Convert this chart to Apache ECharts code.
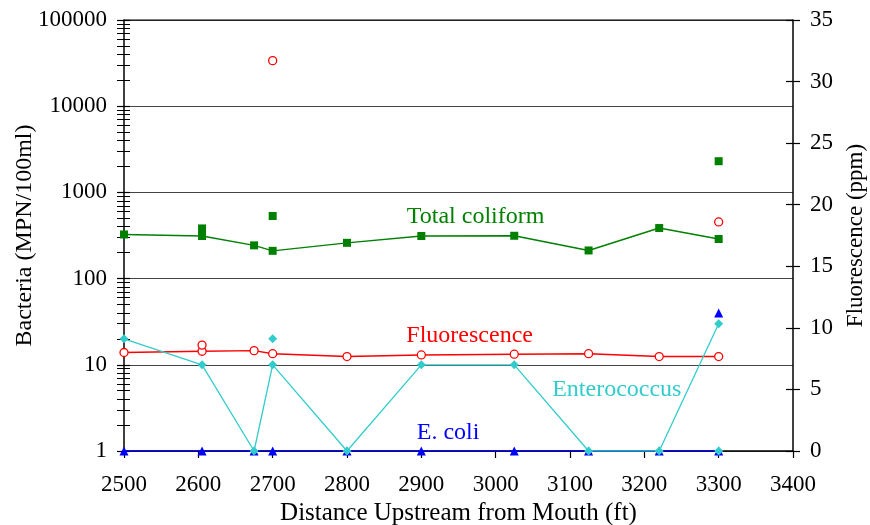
<!DOCTYPE html>
<html><head><meta charset="utf-8">
<script src="https://cdn.jsdelivr.net/npm/echarts@6/dist/echarts.min.js"></script>
<style>html,body{margin:0;padding:0;background:#fff}#c{width:870px;height:525px}</style>
</head><body><div id="c"></div>
<script>
// ---- data ----
const distances      = [2500, 2605, 2675, 2700, 2800, 2900, 3025, 3125, 3220, 3300];
const totalColiform  = [325, 312, 243, 210, 260, 312, 314, 212, 386, 288];
const enterococcus   = [20, 10, 1, 10, 1, 10, 10, 1, 1, 30];
const eColi          = [1, 1, 1, 1, 1, 1, 1, 1, 1, 1];
const fluorescence   = [8.0, 8.1, 8.15, 7.9, 7.67, 7.8, 7.86, 7.9, 7.67, 7.67];
// repeat samples (unconnected)
const totalColiformRepX = [2605, 2700, 3300];
const totalColiformRep  = [382, 532, 2300];
const enterococcusRepX  = [2700, 3300];
const enterococcusRep   = [20, 1];
const eColiRepX         = [3300];
const eColiRep          = [40];
const fluorescenceRepX  = [2605, 2700, 3300];
const fluorescenceRep   = [8.6, 31.7, 18.6];
// in-plot series labels (text, data x, data y, axis index)
const seriesLabels = [
  {text: 'Total coliform', x: 2973, y: 520, axis: 0, color: '#008000'},
  {text: 'Fluorescence',   x: 2965, y: 9.4, axis: 1, color: '#ff0000'},
  {text: 'Enterococcus',   x: 3163, y: 5.2, axis: 0, color: '#33cccc'},
  {text: 'E. coli',        x: 2936, y: 1.64, axis: 0, color: '#0000ff'}
];

const FONT = 'Liberation Serif';
const zip = (xs, ys) => xs.map((x, i) => [x, ys[i]]);

const chart = echarts.init(document.getElementById('c'), null, {renderer: 'canvas'});
const baseLabel = {fontFamily: FONT, fontSize: 23, color: '#000'};
const logAxisCommon = {type: 'log', logBase: 10, min: 1, max: 100000, position: 'left'};
const rightAxisCommon = {type: 'value', min: 0, max: 35, interval: 5, position: 'right'};

const option = {
  animation: false,
  backgroundColor: '#fff',
  grid: {left: 124, right: 77, top: 20, bottom: 74, show: false, containLabel: false, outerBoundsMode: 'none'},
  xAxis: {
    type: 'value', min: 2500, max: 3400, interval: 100,
    name: 'Distance Upstream from Mouth (ft)', nameLocation: 'middle', nameGap: 50, nameMoveOverlap: false,
    nameTextStyle: {fontFamily: FONT, fontSize: 25, color: '#000'},
    axisLine: {lineStyle: {color: '#000', width: 1.5}},
    axisTick: {show: true, inside: false, length: 7, lineStyle: {color: '#000', width: 1.2}},
    axisLabel: Object.assign({margin: 22, formatter: v => String(v)}, baseLabel),
    splitLine: {show: false}
  },
  yAxis: [
    Object.assign({}, logAxisCommon, {
      name: 'Bacteria (MPN/100ml)', nameLocation: 'middle', nameGap: 87, nameMoveOverlap: false,
      nameTextStyle: {fontFamily: FONT, fontSize: 24, color: '#000'},
      axisLine: {show: true, lineStyle: {color: '#000', width: 1.5}},
      axisTick: {show: true, inside: false, length: 7, lineStyle: {color: '#000', width: 1.2}},
      minorTick: {show: true, splitNumber: 9, length: 7, lineStyle: {color: '#000', width: 1}},
      axisLabel: Object.assign({margin: 17, formatter: v => String(v)}, baseLabel),
      splitLine: {show: true, lineStyle: {color: '#444', width: 1.2}}
    }),
    Object.assign({}, rightAxisCommon, {
      name: 'Fluorescence (ppm)', nameLocation: 'middle', nameGap: 51,
      nameTextStyle: {fontFamily: FONT, fontSize: 23, color: '#000'},
      axisLine: {show: true, lineStyle: {color: '#000', width: 1.5}},
      axisTick: {show: true, inside: false, length: 7, lineStyle: {color: '#000', width: 1.2}},
      axisLabel: Object.assign({margin: 17}, baseLabel),
      splitLine: {show: false}
    }),
    Object.assign({}, logAxisCommon, {
      axisLine: {show: false},
      axisTick: {show: true, inside: true, length: 6, lineStyle: {color: '#000', width: 1.2}},
      minorTick: {show: true, splitNumber: 9, length: 6, lineStyle: {color: '#000', width: 1}},
      axisLabel: {show: false}, splitLine: {show: false}
    }),
    Object.assign({}, rightAxisCommon, {
      axisLine: {show: false},
      axisTick: {show: true, inside: true, length: 7, lineStyle: {color: '#000', width: 1.2}},
      axisLabel: {show: false}, splitLine: {show: false}
    })
  ],
  series: [
    {name: 'Total coliform', type: 'line', yAxisIndex: 0, data: zip(distances, totalColiform),
     symbol: 'rect', symbolSize: 8, itemStyle: {color: '#008000', opacity: 1},
     lineStyle: {color: '#008000', width: 1.4}, z: 3},
    {name: 'Total coliform repeat', type: 'scatter', yAxisIndex: 0, data: zip(totalColiformRepX, totalColiformRep),
     symbol: 'rect', symbolSize: 8, itemStyle: {color: '#008000', opacity: 1}, z: 3},
    {name: 'Fluorescence', type: 'line', yAxisIndex: 1, data: zip(distances, fluorescence),
     symbol: 'circle', symbolSize: 8, showAllSymbol: true,
     itemStyle: {color: '#fff', borderColor: '#ff0000', borderWidth: 1.3, opacity: 1},
     lineStyle: {color: '#ff0000', width: 1.4}, z: 4},
    {name: 'Fluorescence repeat', type: 'scatter', yAxisIndex: 1, data: zip(fluorescenceRepX, fluorescenceRep),
     symbol: 'circle', symbolSize: 8,
     itemStyle: {color: '#fff', borderColor: '#ff0000', borderWidth: 1.3, opacity: 1}, z: 4},
    {name: 'E. coli', type: 'line', yAxisIndex: 0, data: zip(distances, eColi),
     symbol: 'triangle', symbolSize: 9, itemStyle: {color: '#0000ff', opacity: 1},
     lineStyle: {color: '#0000ff', width: 1.6}, z: 5},
    {name: 'E. coli repeat', type: 'scatter', yAxisIndex: 0, data: zip(eColiRepX, eColiRep),
     symbol: 'triangle', symbolSize: 9, itemStyle: {color: '#0000ff', opacity: 1}, z: 5},
    {name: 'Enterococcus', type: 'line', yAxisIndex: 0, data: zip(distances, enterococcus),
     symbol: 'diamond', symbolSize: 9, itemStyle: {color: '#33cccc', opacity: 1},
     lineStyle: {color: '#33cccc', width: 1.3}, z: 6},
    {name: 'Enterococcus repeat', type: 'scatter', yAxisIndex: 0, data: zip(enterococcusRepX, enterococcusRep),
     symbol: 'diamond', symbolSize: 9, itemStyle: {color: '#33cccc', opacity: 1}, z: 6}
  ]
};
chart.setOption(option);

// top border of plot area + series labels placed through the axes' scales
const gfx = seriesLabels.map(l => {
  const p = chart.convertToPixel({xAxisIndex: 0, yAxisIndex: l.axis}, [l.x, l.y]);
  return {type: 'text', x: p[0], y: p[1], z: 10,
    style: {text: l.text, fill: l.color, font: '24px "' + FONT + '"', textAlign: 'center', textVerticalAlign: 'middle'}};
});
const tl = chart.convertToPixel({xAxisIndex: 0, yAxisIndex: 0}, [2500, 100000]);
const tr = chart.convertToPixel({xAxisIndex: 0, yAxisIndex: 0}, [3400, 100000]);
gfx.push({type: 'line', shape: {x1: tl[0], y1: tl[1], x2: tr[0], y2: tr[1]}, style: {stroke: '#000', lineWidth: 1.2}, z: 1});
chart.setOption({graphic: gfx});
</script>
</body></html>
